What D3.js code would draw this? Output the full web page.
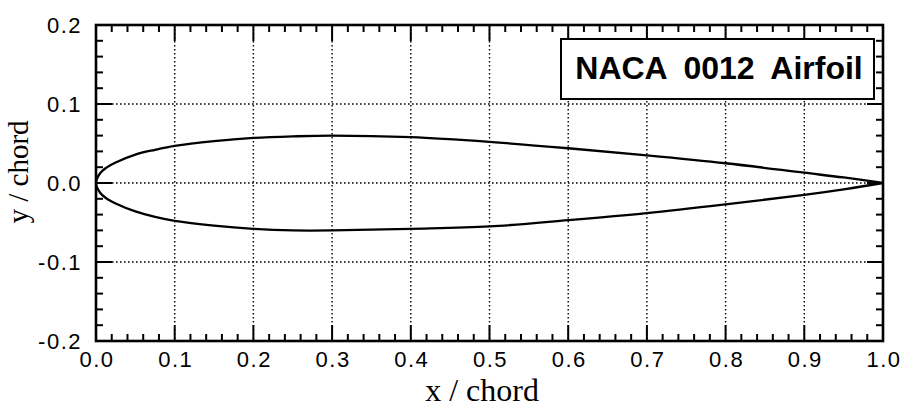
<!DOCTYPE html>
<html>
<head>
<meta charset="utf-8">
<script src="https://cdn.jsdelivr.net/npm/d3@7"></script>
<style>
  html, body { margin: 0; padding: 0; background: #fff; }
  svg { display: block; }
</style>
</head>
<body>
<svg id="chart" width="907" height="410"></svg>
<script>
// Section coordinates (x / chord) and surface ordinates (y / chord)
const stationX = [0, 0.005, 0.0125, 0.025, 0.05, 0.075, 0.1, 0.15, 0.2, 0.25, 0.3, 0.4, 0.5, 0.6, 0.7, 0.8, 0.9, 0.95, 1.0];
const upperY   = [0, 0.012, 0.019, 0.026, 0.036, 0.042, 0.047, 0.053, 0.057, 0.059, 0.060, 0.058, 0.052, 0.044, 0.035, 0.025, 0.013, 0.007, 0.0];
const lowerY   = [0, -0.012, -0.019, -0.026, -0.036, -0.043, -0.048, -0.054, -0.058, -0.060, -0.060, -0.058, -0.055, -0.047, -0.038, -0.027, -0.015, -0.008, 0.0];

const xTicks = [0.0, 0.1, 0.2, 0.3, 0.4, 0.5, 0.6, 0.7, 0.8, 0.9, 1.0];
const yTicks = [-0.2, -0.1, 0.0, 0.1, 0.2];
const titleText = "NACA 0012 Airfoil";

const svg = d3.select("#chart");
const m = { left: 96, right: 883, top: 25, bottom: 341 };

const x = d3.scaleLinear().domain([0, 1]).range([m.left, m.right]);
const y = d3.scaleLinear().domain([-0.2, 0.2]).range([m.bottom, m.top]);

const minorX = d3.range(0, 1.0001, 0.02);
const minorY = d3.range(-0.2, 0.2001, 0.02);

// dotted grid at major ticks
const grid = svg.append("g").attr("stroke", "#000").attr("stroke-width", 1.4)
  .attr("stroke-dasharray", "1.6,2.4");
grid.selectAll("line.gx").data(xTicks.slice(1, -1)).join("line")
  .attr("x1", d => x(d)).attr("x2", d => x(d))
  .attr("y1", m.top).attr("y2", m.bottom);
grid.selectAll("line.gy").data(yTicks.slice(1, -1)).join("line")
  .attr("y1", d => y(d)).attr("y2", d => y(d))
  .attr("x1", m.left).attr("x2", m.right);

// inward ticks on all four sides
const ticks = svg.append("g").attr("stroke", "#000").attr("stroke-width", 2);
const isMajor = v => Math.abs(v * 10 - Math.round(v * 10)) < 1e-6;
const minorLen = 7, majorLen = 16;
minorX.forEach(v => {
  const L = isMajor(v) ? majorLen : minorLen;
  ticks.append("line").attr("x1", x(v)).attr("x2", x(v)).attr("y1", m.bottom).attr("y2", m.bottom - L);
  ticks.append("line").attr("x1", x(v)).attr("x2", x(v)).attr("y1", m.top).attr("y2", m.top + L);
});
minorY.forEach(v => {
  const L = isMajor(v) ? majorLen : minorLen;
  ticks.append("line").attr("y1", y(v)).attr("y2", y(v)).attr("x1", m.left).attr("x2", m.left + L);
  ticks.append("line").attr("y1", y(v)).attr("y2", y(v)).attr("x1", m.right).attr("x2", m.right - L);
});

// frame
svg.append("rect")
  .attr("x", m.left).attr("y", m.top)
  .attr("width", m.right - m.left).attr("height", m.bottom - m.top)
  .attr("fill", "none").attr("stroke", "#000").attr("stroke-width", 2.6);

// tick labels
const fmt = d3.format(".1f");
const tickFont = "Liberation Sans, Arial, sans-serif";
svg.append("g").selectAll("text").data(xTicks).join("text")
  .attr("x", d => x(d) + 1).attr("y", 367)
  .attr("text-anchor", "middle")
  .attr("font-family", tickFont)
  .attr("font-size", 22)
  .attr("letter-spacing", 1.5)
  .text(d => fmt(d));
svg.append("g").selectAll("text").data(yTicks).join("text")
  .attr("x", 82).attr("y", d => y(d) + 8)
  .attr("text-anchor", "end")
  .attr("font-family", tickFont)
  .attr("font-size", 22)
  .attr("letter-spacing", 1.5)
  .text(d => fmt(d).replace("−", "-"));

// axis titles
svg.append("text")
  .attr("x", 482).attr("y", 401)
  .attr("text-anchor", "middle")
  .attr("font-family", "Liberation Serif, Times New Roman, serif")
  .attr("font-size", 32)
  .text("x / chord");
svg.append("text")
  .attr("transform", "translate(28,172) rotate(-90)")
  .attr("text-anchor", "middle")
  .attr("font-family", "Liberation Serif, Times New Roman, serif")
  .attr("font-size", 29)
  .text("y / chord");

// airfoil outline: upper surface trailing edge -> leading edge -> lower surface
const upperPts = stationX.map((v, i) => [v, upperY[i]]).reverse();
const lowerPts = stationX.map((v, i) => [v, lowerY[i]]).slice(1);
const outline = upperPts.concat(lowerPts);
const line = d3.line().x(d => x(d[0])).y(d => y(d[1])).curve(d3.curveCatmullRom.alpha(0.5));
svg.append("path").datum(outline)
  .attr("d", line)
  .attr("fill", "none").attr("stroke", "#000").attr("stroke-width", 2.3)
  .attr("stroke-linejoin", "round");

// title box
svg.append("rect")
  .attr("x", 561).attr("y", 39).attr("width", 313).attr("height", 60)
  .attr("fill", "#fff").attr("stroke", "#000").attr("stroke-width", 2);
svg.append("text")
  .attr("x", 719).attr("y", 79)
  .attr("text-anchor", "middle")
  .attr("font-family", "Liberation Sans, Arial, sans-serif")
  .attr("font-weight", "bold")
  .attr("font-size", 32)
  .attr("word-spacing", 8)
  .text(titleText);
</script>
</body>
</html>
